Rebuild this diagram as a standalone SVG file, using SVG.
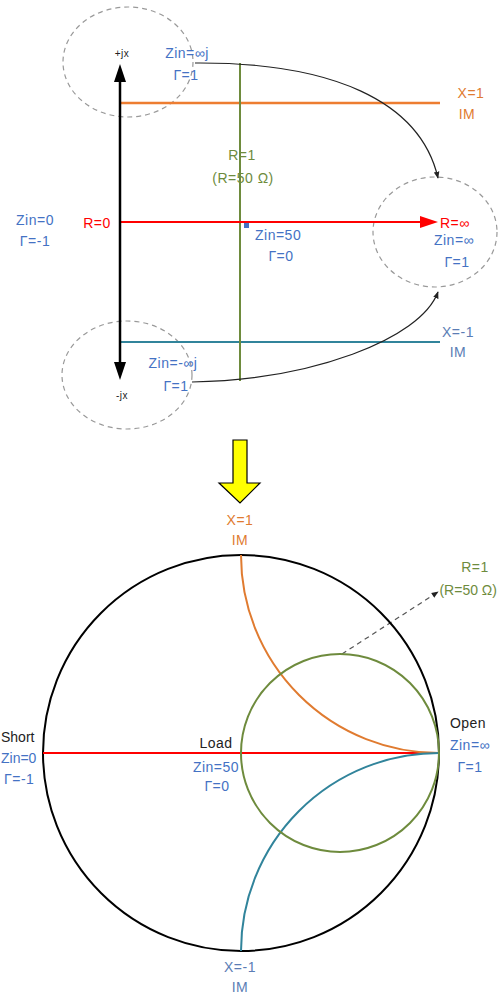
<svg xmlns="http://www.w3.org/2000/svg" width="498" height="994" viewBox="0 0 498 994">
<defs>
<style>
text{font-family:"Liberation Sans",Arial,sans-serif;font-size:14px;letter-spacing:0.5px}
.b{fill:#4472C4}.o{fill:#E07B30}.g{fill:#6E8B3D}.r{fill:#FF0000}.k{fill:#222}
.t{fill:#5B7DB5}
.dash{fill:none;stroke:#999;stroke-width:1.2;stroke-dasharray:5 4}
.m{text-anchor:middle}.e{text-anchor:end}
</style>
<marker id="ah" viewBox="0 0 10 10" refX="9" refY="5" markerWidth="7" markerHeight="7" orient="auto" markerUnits="userSpaceOnUse">
<path d="M0,1 L10,5 L0,9 Z" fill="#222"/>
</marker>
</defs>
<rect width="498" height="994" fill="#fff"/>

<g id="regions">
<ellipse id="top-region" class="dash" cx="128" cy="62" rx="65" ry="55"/>
<ellipse id="right-region" class="dash" cx="435" cy="232" rx="62" ry="55"/>
<ellipse id="bottom-region" class="dash" cx="127" cy="375" rx="65" ry="54"/>
</g>

<g id="lines">
<line id="x1-line" x1="120" y1="103" x2="440" y2="103" stroke="#ED7D31" stroke-width="2.5"/>
<line id="xm1-line" x1="120" y1="342" x2="440" y2="342" stroke="#31849B" stroke-width="2"/>
<line id="r1-line" x1="240" y1="63" x2="240" y2="381" stroke="#6E8B3D" stroke-width="2"/>
<line id="r0-line" x1="120" y1="222" x2="422" y2="222" stroke="#FF0000" stroke-width="2"/>
<polygon points="420,216 438,222 420,228" fill="#FF0000"/>
<line id="axis" x1="120" y1="80" x2="120" y2="364" stroke="#000" stroke-width="2.5"/>
<polygon points="114,82 120,64 126,82" fill="#000"/>
<polygon points="114,362 120,380 126,362" fill="#000"/>
<rect x="244" y="223" width="5" height="5" fill="#4472C4"/>
</g>

<g id="connectors">
<path d="M195,63 C330,62 420,100 438,178" fill="none" stroke="#222" stroke-width="1.2" marker-end="url(#ah)"/>
<path d="M192,382 C310,380 420,340 438,292" fill="none" stroke="#222" stroke-width="1.2" marker-end="url(#ah)"/>
<path d="M342,654 L438,592" fill="none" stroke="#555" stroke-width="1.2" stroke-dasharray="5 4" marker-end="url(#ah)"/>
</g>

<g id="top-labels">
<text class="k m" x="122" y="57" style="font-size:10px">+jx</text>
<text class="b m" x="187" y="58">Zin=∞j</text>
<text class="b m" x="186" y="80">Γ=1</text>
<text class="o m" x="471" y="98">X=1</text>
<text class="o m" x="467" y="119">IM</text>
<text class="g m" x="242" y="160">R=1</text>
<text class="g m" x="243" y="183">(R=50 Ω)</text>
<text class="b m" x="35" y="225">Zin=0</text>
<text class="b m" x="35" y="246">Γ=-1</text>
<text class="r m" x="97" y="228">R=0</text>
<text class="b" x="255" y="240">Zin=50</text>
<text class="b m" x="281" y="261">Γ=0</text>
<text class="r" x="440" y="228">R=∞</text>
<text class="b m" x="454" y="245">Zin=∞</text>
<text class="b m" x="457" y="267">Γ=1</text>
<text class="t m" x="458" y="337">X=-1</text>
<text class="t m" x="458" y="357">IM</text>
<text class="b m" x="173" y="368">Zin=-∞j</text>
<text class="b m" x="176" y="391">Γ=1</text>
<text class="k m" x="122" y="399" style="font-size:10px">-jx</text>
</g>

<g id="transform-arrow">
<polygon points="233,440 247,440 247,483 260,483 240,503 219,483 233,483" fill="#FFFF00" stroke="#000" stroke-width="1.2"/>
</g>

<g id="smith-chart">
<circle id="outer" cx="241" cy="753" r="198" fill="none" stroke="#000" stroke-width="2"/>
<line id="real-axis" x1="43" y1="753" x2="439" y2="753" stroke="#FF0000" stroke-width="2"/>
<path id="x1-arc" d="M241,555 A198,198 0 0 0 439,753" fill="none" stroke="#E07B30" stroke-width="2"/>
<path id="xm1-arc" d="M439,753 A198,198 0 0 0 241,951" fill="none" stroke="#31849B" stroke-width="2"/>
<circle id="r1-circle" cx="340" cy="753" r="99" fill="none" stroke="#6E8B3D" stroke-width="2"/>
</g>

<g id="smith-labels">
<text class="o m" x="240" y="525">X=1</text>
<text class="o m" x="240" y="545">IM</text>
<text class="g m" x="475" y="572">R=1</text>
<text class="g e" x="497" y="595" style="letter-spacing:0">(R=50 Ω)</text>
<text class="k" x="1" y="742" style="letter-spacing:0">Short</text>
<text class="b" x="1" y="763" style="letter-spacing:0">Zin=0</text>
<text class="b" x="4" y="784">Γ=-1</text>
<text class="k m" x="216" y="748">Load</text>
<text class="b m" x="216" y="772">Zin=50</text>
<text class="b m" x="217" y="791">Γ=0</text>
<text class="k m" x="468" y="728">Open</text>
<text class="b m" x="470" y="750">Zin=∞</text>
<text class="b m" x="470" y="772">Γ=1</text>
<text class="t m" x="240" y="972">X=-1</text>
<text class="t m" x="240" y="992">IM</text>
</g>
</svg>
